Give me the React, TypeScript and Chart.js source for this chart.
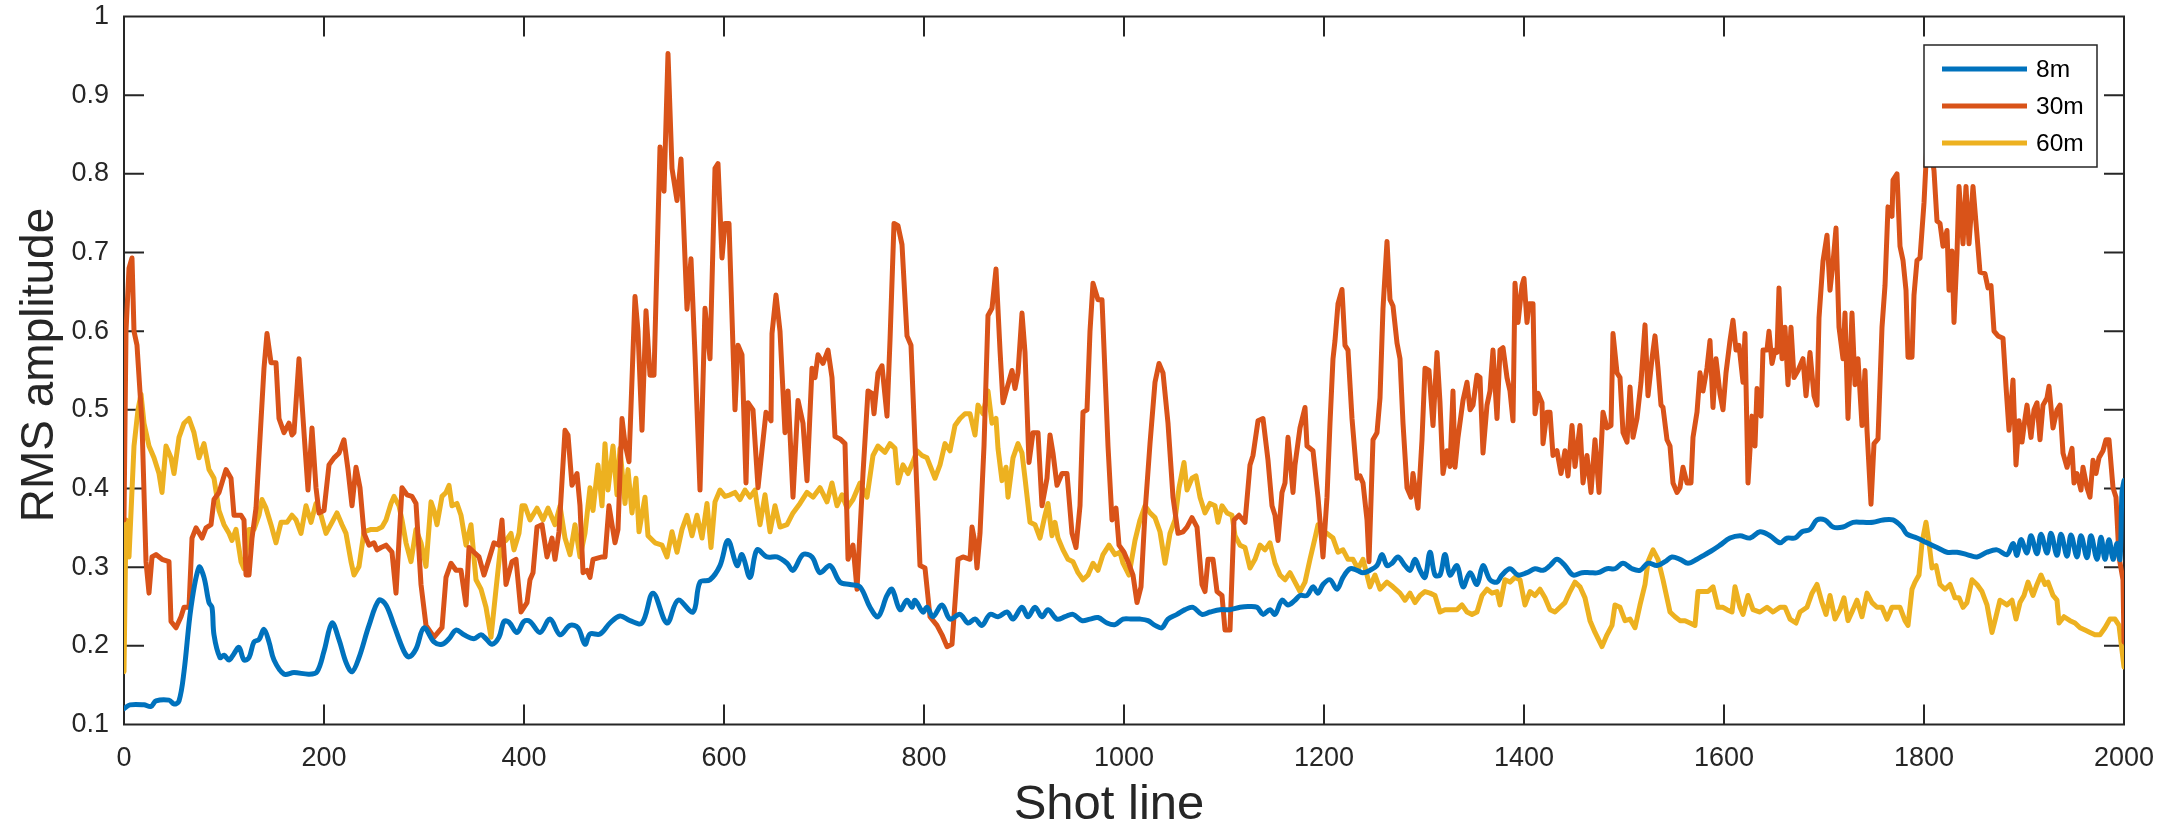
import React, { useEffect, useRef } from "react";
import { Chart, registerables } from "chart.js";

Chart.register(...registerables);

// ---------------- data ----------------
const SERIES_LABELS = ["8m", "30m", "60m"];
const SERIES_COLORS = ["#0072BD", "#D95319", "#EDB120"];
const X_TICKS = [0, 200, 400, 600, 800, 1000, 1200, 1400, 1600, 1800, 2000];
const Y_TICKS = [0.1, 0.2, 0.3, 0.4, 0.5, 0.6, 0.7, 0.8, 0.9, 1];

const SHOTS_8M = [0,6,20,27,32,45,50,55,60,67,75,80,85,88,90,96,100,105,110,115,120,125,130,135,140,145,150,160,170,185,193,200,208,215,222,228,235,245,255,262,270,280,285,292,300,310,318,325,332,340,350,357,362,368,375,380,385,393,400,406,416,426,436,446,454,461,466,476,486,496,506,518,529,543,554,569,576,586,596,604,613,618,626,633,643,653,663,669,679,688,696,706,716,726,736,746,754,763,768,776,783,788,791,799,803,809,818,826,836,844,851,858,866,874,883,889,898,904,911,918,924,933,941,949,958,966,974,983,991,999,1008,1016,1024,1031,1038,1044,1053,1061,1069,1078,1086,1096,1106,1116,1124,1133,1139,1146,1151,1158,1164,1171,1176,1183,1189,1194,1199,1206,1213,1219,1226,1233,1239,1246,1253,1258,1263,1268,1274,1281,1286,1291,1296,1301,1306,1311,1316,1321,1326,1333,1339,1346,1353,1359,1366,1373,1378,1386,1394,1403,1411,1419,1426,1433,1441,1449,1458,1466,1474,1483,1491,1499,1508,1516,1524,1533,1541,1548,1556,1564,1573,1581,1589,1596,1606,1616,1626,1636,1646,1656,1663,1671,1678,1686,1693,1701,1709,1719,1729,1739,1749,1759,1769,1778,1783,1793,1803,1813,1823,1833,1843,1853,1863,1873,1883,1889,1893,1897,1903,1907,1913,1917,1923,1927,1933,1937,1943,1947,1953,1957,1963,1967,1973,1977,1981,1985,1989,1993,1996,1998,2000];
const RMS_8M = [0.12,0.125,0.125,0.123,0.13,0.131,0.126,0.13,0.167,0.249,0.3,0.287,0.255,0.249,0.214,0.185,0.188,0.182,0.19,0.198,0.182,0.185,0.205,0.208,0.221,0.205,0.182,0.164,0.166,0.164,0.167,0.193,0.229,0.208,0.179,0.167,0.185,0.226,0.258,0.252,0.226,0.193,0.186,0.196,0.223,0.205,0.202,0.209,0.22,0.214,0.209,0.214,0.209,0.202,0.211,0.231,0.23,0.217,0.231,0.231,0.217,0.234,0.214,0.226,0.223,0.202,0.215,0.215,0.229,0.238,0.232,0.229,0.267,0.229,0.258,0.243,0.281,0.284,0.302,0.334,0.302,0.316,0.287,0.322,0.313,0.313,0.305,0.296,0.316,0.313,0.293,0.302,0.281,0.278,0.275,0.249,0.237,0.264,0.272,0.246,0.258,0.249,0.258,0.243,0.249,0.237,0.252,0.234,0.24,0.229,0.234,0.226,0.24,0.237,0.243,0.234,0.249,0.237,0.249,0.237,0.246,0.234,0.237,0.24,0.232,0.234,0.236,0.229,0.227,0.234,0.234,0.234,0.232,0.226,0.223,0.234,0.24,0.246,0.249,0.24,0.243,0.246,0.246,0.249,0.25,0.249,0.24,0.246,0.24,0.258,0.252,0.258,0.264,0.264,0.275,0.267,0.278,0.284,0.272,0.287,0.298,0.296,0.293,0.296,0.302,0.316,0.302,0.305,0.313,0.302,0.296,0.31,0.296,0.287,0.319,0.29,0.29,0.316,0.29,0.302,0.275,0.293,0.278,0.302,0.284,0.281,0.29,0.298,0.29,0.293,0.298,0.296,0.302,0.31,0.302,0.29,0.293,0.293,0.293,0.298,0.298,0.305,0.298,0.296,0.305,0.302,0.307,0.313,0.31,0.305,0.31,0.316,0.322,0.328,0.337,0.34,0.337,0.345,0.34,0.331,0.337,0.337,0.345,0.348,0.36,0.36,0.351,0.351,0.357,0.357,0.357,0.36,0.36,0.351,0.342,0.337,0.331,0.325,0.319,0.319,0.316,0.313,0.319,0.322,0.316,0.33,0.315,0.335,0.318,0.34,0.317,0.342,0.318,0.343,0.315,0.342,0.314,0.341,0.313,0.34,0.312,0.34,0.31,0.338,0.31,0.335,0.31,0.33,0.31,0.395,0.41];

const SHOTS_30M = [0,2,5,8,10,13,18,22,25,28,32,38,45,47,52,57,60,65,68,72,78,82,87,90,95,102,107,110,117,120,122,125,128,132,140,143,147,152,155,160,165,168,170,175,180,184,188,192,195,200,205,210,215,220,224,228,232,236,240,245,250,253,257,262,268,272,278,283,288,292,297,302,310,318,322,327,332,337,342,345,350,355,360,365,370,375,378,382,388,392,397,403,406,409,413,418,423,428,431,435,441,444,448,453,456,459,463,466,469,478,481,485,491,494,498,501,505,511,514,518,522,526,530,536,540,544,548,553,557,563,567,571,576,581,586,591,594,598,601,605,611,614,618,622,624,629,634,642,647,648,652,656,661,664,669,674,679,683,688,691,694,699,704,708,711,716,721,724,729,733,739,744,748,750,754,758,763,766,770,774,778,783,787,791,796,801,806,813,818,823,828,831,834,839,846,848,851,853,856,860,864,868,872,876,879,884,888,891,894,898,901,905,909,914,918,923,926,929,933,938,943,948,952,956,959,963,966,969,974,978,981,984,988,992,995,1000,1004,1009,1013,1017,1021,1026,1031,1035,1039,1044,1049,1054,1059,1063,1068,1073,1078,1081,1084,1089,1093,1098,1101,1106,1110,1115,1121,1126,1129,1134,1139,1144,1148,1151,1154,1158,1161,1164,1169,1171,1176,1181,1183,1189,1194,1199,1203,1206,1209,1211,1214,1218,1221,1224,1228,1233,1236,1239,1243,1245,1249,1253,1256,1259,1263,1266,1269,1273,1276,1279,1283,1287,1289,1294,1298,1301,1305,1309,1313,1316,1319,1323,1326,1329,1331,1334,1339,1343,1346,1349,1353,1356,1359,1363,1366,1369,1373,1376,1379,1383,1386,1389,1391,1394,1398,1400,1403,1405,1409,1411,1414,1418,1419,1423,1426,1429,1433,1437,1441,1444,1448,1451,1456,1459,1463,1467,1471,1475,1479,1483,1487,1489,1493,1496,1499,1503,1506,1509,1513,1517,1521,1524,1528,1531,1534,1537,1539,1543,1546,1549,1553,1556,1559,1563,1567,1569,1573,1576,1579,1583,1586,1589,1592,1596,1599,1602,1606,1609,1612,1615,1619,1621,1624,1628,1631,1633,1637,1639,1643,1645,1648,1651,1653,1655,1658,1661,1664,1667,1670,1674,1679,1682,1686,1690,1693,1695,1699,1703,1706,1709,1712,1715,1719,1721,1724,1728,1731,1734,1738,1741,1743,1747,1750,1754,1758,1761,1764,1768,1769,1773,1776,1779,1782,1784,1788,1790,1793,1796,1800,1803,1807,1810,1813,1816,1819,1823,1825,1828,1830,1833,1835,1839,1842,1845,1849,1853,1856,1861,1864,1867,1870,1874,1879,1882,1885,1889,1892,1895,1898,1901,1903,1907,1910,1913,1916,1919,1923,1925,1929,1933,1936,1939,1943,1948,1950,1953,1957,1959,1963,1966,1969,1972,1975,1979,1982,1985,1989,1992,1995,1999,2000];
const RMS_30M = [0.36,0.6,0.68,0.693,0.6,0.582,0.483,0.307,0.267,0.313,0.316,0.31,0.307,0.231,0.223,0.237,0.249,0.249,0.337,0.35,0.337,0.35,0.354,0.386,0.395,0.424,0.413,0.366,0.366,0.36,0.29,0.29,0.337,0.375,0.553,0.597,0.56,0.56,0.489,0.471,0.483,0.468,0.471,0.565,0.471,0.398,0.477,0.401,0.369,0.372,0.43,0.439,0.445,0.462,0.424,0.378,0.427,0.401,0.343,0.328,0.331,0.322,0.325,0.328,0.319,0.267,0.401,0.392,0.39,0.381,0.278,0.226,0.211,0.223,0.287,0.305,0.296,0.296,0.252,0.325,0.319,0.313,0.29,0.31,0.331,0.328,0.36,0.278,0.307,0.31,0.243,0.255,0.284,0.293,0.351,0.354,0.313,0.337,0.31,0.345,0.474,0.468,0.404,0.419,0.378,0.293,0.296,0.287,0.31,0.313,0.313,0.378,0.331,0.348,0.489,0.457,0.434,0.644,0.6,0.474,0.626,0.544,0.544,0.834,0.778,0.953,0.807,0.766,0.819,0.628,0.692,0.57,0.398,0.629,0.565,0.807,0.813,0.693,0.737,0.737,0.5,0.582,0.57,0.407,0.509,0.5,0.401,0.497,0.486,0.597,0.646,0.6,0.471,0.524,0.389,0.512,0.483,0.41,0.553,0.541,0.57,0.559,0.576,0.541,0.466,0.463,0.457,0.31,0.328,0.272,0.419,0.524,0.521,0.495,0.547,0.556,0.492,0.588,0.737,0.734,0.71,0.594,0.582,0.457,0.302,0.299,0.237,0.226,0.214,0.199,0.202,0.255,0.31,0.313,0.31,0.351,0.331,0.299,0.343,0.454,0.62,0.629,0.679,0.576,0.509,0.532,0.55,0.527,0.547,0.623,0.573,0.433,0.471,0.471,0.378,0.413,0.468,0.445,0.404,0.419,0.419,0.343,0.325,0.378,0.497,0.5,0.6,0.661,0.64,0.64,0.547,0.454,0.36,0.375,0.328,0.319,0.307,0.29,0.255,0.275,0.369,0.457,0.535,0.559,0.547,0.483,0.389,0.343,0.345,0.351,0.363,0.351,0.278,0.269,0.31,0.31,0.269,0.264,0.22,0.22,0.36,0.366,0.357,0.43,0.442,0.486,0.489,0.436,0.378,0.366,0.334,0.395,0.407,0.465,0.395,0.43,0.477,0.503,0.454,0.448,0.389,0.313,0.389,0.483,0.565,0.588,0.635,0.653,0.582,0.576,0.489,0.413,0.416,0.407,0.36,0.307,0.462,0.471,0.515,0.629,0.714,0.64,0.632,0.585,0.565,0.483,0.401,0.389,0.419,0.375,0.462,0.553,0.55,0.48,0.573,0.509,0.419,0.448,0.428,0.524,0.427,0.465,0.512,0.535,0.5,0.506,0.544,0.541,0.445,0.506,0.524,0.576,0.489,0.576,0.579,0.541,0.524,0.486,0.661,0.611,0.658,0.667,0.611,0.635,0.635,0.495,0.521,0.509,0.457,0.497,0.497,0.442,0.448,0.419,0.448,0.416,0.48,0.428,0.48,0.407,0.442,0.395,0.462,0.395,0.497,0.477,0.48,0.597,0.547,0.541,0.471,0.459,0.529,0.465,0.489,0.535,0.608,0.518,0.565,0.594,0.553,0.506,0.503,0.462,0.454,0.407,0.395,0.401,0.427,0.407,0.407,0.465,0.497,0.547,0.524,0.553,0.588,0.503,0.565,0.52,0.5,0.547,0.588,0.614,0.576,0.582,0.535,0.597,0.407,0.492,0.454,0.527,0.492,0.576,0.576,0.6,0.559,0.576,0.573,0.655,0.565,0.605,0.532,0.605,0.541,0.55,0.565,0.518,0.573,0.518,0.506,0.617,0.689,0.722,0.652,0.687,0.731,0.605,0.565,0.623,0.489,0.623,0.532,0.565,0.48,0.55,0.474,0.38,0.457,0.463,0.605,0.658,0.758,0.746,0.792,0.8,0.708,0.69,0.652,0.567,0.567,0.646,0.69,0.693,0.763,0.84,0.83,0.804,0.74,0.737,0.708,0.728,0.652,0.702,0.611,0.699,0.784,0.711,0.784,0.711,0.784,0.722,0.675,0.673,0.655,0.658,0.6,0.594,0.591,0.53,0.474,0.538,0.43,0.486,0.459,0.489,0.506,0.465,0.5,0.509,0.462,0.506,0.515,0.53,0.477,0.5,0.506,0.445,0.427,0.451,0.407,0.419,0.398,0.427,0.401,0.389,0.436,0.419,0.439,0.448,0.462,0.462,0.401,0.389,0.313,0.284,0.205];

const SHOTS_60M = [0,2,5,10,14,17,20,25,30,35,38,42,47,50,55,60,65,70,75,80,85,90,95,100,105,108,112,117,120,125,130,135,138,142,147,152,157,163,168,172,177,182,187,192,197,202,208,213,218,222,227,230,235,240,247,253,258,262,267,270,275,278,282,287,292,297,302,307,310,313,318,322,325,328,333,337,342,347,352,357,362,367,372,377,382,387,390,395,398,401,406,413,419,424,431,436,441,446,451,456,461,466,469,474,478,481,484,489,493,496,501,504,508,512,515,521,524,531,538,543,548,553,558,563,568,573,578,583,587,591,596,601,606,611,616,621,626,631,636,641,646,651,656,663,669,676,683,689,696,703,708,713,718,723,729,736,743,749,754,761,766,771,774,779,784,789,793,798,803,811,816,821,826,831,836,841,846,851,854,859,864,868,872,874,878,882,884,889,894,898,901,906,911,916,921,924,928,931,934,939,944,949,954,959,964,969,974,979,985,991,996,999,1005,1011,1016,1021,1026,1031,1036,1041,1046,1051,1055,1060,1063,1068,1072,1076,1081,1086,1091,1094,1098,1103,1108,1111,1116,1121,1126,1131,1136,1141,1146,1151,1156,1161,1166,1171,1176,1181,1186,1191,1194,1199,1203,1209,1214,1219,1224,1229,1234,1239,1246,1251,1256,1263,1269,1276,1281,1286,1291,1296,1301,1306,1311,1316,1321,1328,1333,1338,1343,1348,1353,1358,1363,1368,1373,1376,1381,1386,1391,1396,1401,1406,1411,1416,1421,1426,1431,1436,1441,1446,1451,1456,1461,1466,1471,1478,1483,1488,1491,1496,1501,1506,1511,1516,1521,1524,1529,1534,1539,1546,1551,1556,1561,1566,1571,1574,1579,1584,1589,1594,1599,1603,1608,1611,1616,1619,1624,1629,1636,1643,1649,1656,1661,1666,1672,1676,1683,1688,1693,1698,1702,1706,1711,1716,1720,1724,1729,1733,1738,1743,1748,1753,1758,1763,1768,1776,1781,1784,1788,1791,1795,1798,1802,1805,1808,1812,1816,1821,1826,1831,1835,1839,1843,1848,1853,1858,1863,1868,1871,1876,1883,1888,1892,1896,1900,1904,1909,1913,1917,1921,1924,1929,1933,1935,1940,1946,1951,1956,1961,1966,1971,1976,1981,1986,1991,1995,1998,2000];
const RMS_60M = [0.167,0.36,0.313,0.454,0.5,0.52,0.483,0.454,0.439,0.419,0.395,0.454,0.439,0.419,0.465,0.483,0.489,0.471,0.439,0.457,0.424,0.413,0.372,0.354,0.343,0.334,0.348,0.307,0.298,0.348,0.348,0.366,0.386,0.375,0.354,0.331,0.357,0.357,0.366,0.36,0.343,0.378,0.357,0.381,0.366,0.343,0.357,0.369,0.354,0.343,0.307,0.29,0.301,0.345,0.348,0.348,0.351,0.36,0.381,0.39,0.378,0.36,0.331,0.307,0.348,0.331,0.301,0.383,0.372,0.354,0.39,0.395,0.404,0.378,0.381,0.366,0.328,0.354,0.284,0.272,0.249,0.211,0.272,0.331,0.334,0.343,0.322,0.343,0.378,0.378,0.36,0.375,0.36,0.375,0.354,0.378,0.337,0.316,0.354,0.313,0.343,0.401,0.372,0.43,0.378,0.457,0.398,0.454,0.392,0.451,0.381,0.424,0.369,0.413,0.345,0.389,0.34,0.331,0.328,0.313,0.345,0.319,0.348,0.366,0.34,0.366,0.337,0.381,0.325,0.383,0.398,0.39,0.392,0.395,0.386,0.398,0.389,0.398,0.354,0.392,0.345,0.378,0.351,0.354,0.369,0.381,0.395,0.389,0.401,0.383,0.407,0.378,0.392,0.375,0.386,0.407,0.389,0.442,0.454,0.446,0.457,0.451,0.407,0.43,0.419,0.434,0.448,0.442,0.439,0.413,0.43,0.457,0.448,0.48,0.489,0.495,0.495,0.468,0.506,0.495,0.524,0.483,0.489,0.451,0.41,0.427,0.389,0.439,0.457,0.445,0.413,0.357,0.354,0.337,0.366,0.381,0.34,0.357,0.337,0.322,0.31,0.307,0.293,0.284,0.29,0.305,0.296,0.316,0.328,0.316,0.319,0.305,0.29,0.334,0.36,0.378,0.369,0.363,0.345,0.305,0.343,0.36,0.401,0.433,0.398,0.413,0.416,0.389,0.369,0.381,0.378,0.357,0.378,0.369,0.366,0.34,0.328,0.325,0.299,0.31,0.328,0.322,0.331,0.305,0.29,0.284,0.293,0.281,0.269,0.281,0.31,0.337,0.354,0.345,0.343,0.337,0.319,0.322,0.31,0.31,0.298,0.31,0.275,0.29,0.272,0.281,0.275,0.267,0.258,0.267,0.255,0.264,0.269,0.267,0.264,0.243,0.246,0.246,0.246,0.252,0.243,0.24,0.243,0.264,0.272,0.267,0.269,0.252,0.284,0.281,0.287,0.284,0.252,0.269,0.264,0.272,0.261,0.246,0.243,0.249,0.255,0.269,0.281,0.275,0.261,0.232,0.217,0.199,0.214,0.226,0.252,0.249,0.232,0.234,0.223,0.252,0.278,0.307,0.322,0.31,0.284,0.243,0.237,0.232,0.232,0.229,0.226,0.269,0.269,0.269,0.275,0.249,0.249,0.246,0.243,0.275,0.249,0.24,0.264,0.246,0.243,0.249,0.243,0.249,0.249,0.234,0.229,0.243,0.249,0.267,0.278,0.255,0.24,0.264,0.234,0.246,0.261,0.232,0.246,0.258,0.237,0.267,0.255,0.249,0.249,0.234,0.249,0.249,0.232,0.226,0.272,0.281,0.29,0.331,0.357,0.331,0.299,0.302,0.278,0.272,0.278,0.261,0.261,0.249,0.255,0.284,0.278,0.269,0.252,0.217,0.232,0.258,0.252,0.258,0.234,0.255,0.264,0.281,0.264,0.278,0.29,0.278,0.281,0.264,0.258,0.229,0.237,0.232,0.229,0.223,0.22,0.217,0.214,0.214,0.223,0.234,0.234,0.226,0.194,0.173];

const X_TITLE = "Shot line";
const Y_TITLE = "RMS amplitude";

// ---------------- style ----------------
const FONT = "'Liberation Sans', Arial, Helvetica, sans-serif";
const INK = "#262626";
const TICK_LEN = 20;

const zip = (xs: number[], ys: number[]) => xs.map((x, i) => ({ x, y: ys[i] }));

const fmt = (v: number) => String(Number(Number(v).toFixed(1)));

const framePlugin = {
  id: "frameTicks",
  beforeDatasetsDraw(chart: any) {
    const { ctx, chartArea: a, scales } = chart;
    const xs = scales.x;
    const ys = scales.y;
    ctx.save();
    ctx.strokeStyle = INK;
    ctx.lineWidth = 2;
    ctx.beginPath();
    ctx.rect(a.left, a.top, a.right - a.left, a.bottom - a.top);
    X_TICKS.forEach((t) => {
      const px = xs.getPixelForValue(t);
      ctx.moveTo(px, a.bottom);
      ctx.lineTo(px, a.bottom - TICK_LEN);
      ctx.moveTo(px, a.top);
      ctx.lineTo(px, a.top + TICK_LEN);
    });
    Y_TICKS.forEach((t) => {
      const py = ys.getPixelForValue(t);
      ctx.moveTo(a.left, py);
      ctx.lineTo(a.left + TICK_LEN, py);
      ctx.moveTo(a.right, py);
      ctx.lineTo(a.right - TICK_LEN, py);
    });
    ctx.stroke();

    // axis titles
    ctx.fillStyle = INK;
    ctx.textBaseline = "alphabetic";
    ctx.textAlign = "center";
    ctx.font = `49px ${FONT}`;
    ctx.fillText(X_TITLE, 1109, 819);
    ctx.save();
    ctx.translate(52.5, 365);
    ctx.rotate(-Math.PI / 2);
    ctx.font = `46px ${FONT}`;
    ctx.fillText(Y_TITLE, 0, 0);
    ctx.restore();
    ctx.restore();
  },
};

const legendPlugin = {
  id: "boxLegend",
  afterDraw(chart: any) {
    const { ctx, chartArea: a } = chart;
    const left = a.right - 200;
    const top = a.top + 28.5;
    const w = 173;
    const h = 122;
    ctx.save();
    ctx.fillStyle = "#ffffff";
    ctx.fillRect(left, top, w, h);
    ctx.strokeStyle = INK;
    ctx.lineWidth = 1.5;
    ctx.strokeRect(left, top, w, h);
    ctx.font = `24.5px ${FONT}`;
    ctx.textBaseline = "middle";
    ctx.textAlign = "left";
    chart.data.datasets.forEach((ds: any, i: number) => {
      const y = top + 24 + i * 37;
      ctx.strokeStyle = ds.borderColor;
      ctx.lineWidth = 5;
      ctx.beginPath();
      ctx.moveTo(left + 18, y);
      ctx.lineTo(left + 103, y);
      ctx.stroke();
      ctx.fillStyle = "#000000";
      ctx.fillText(ds.label, left + 112, y + 1);
    });
    ctx.restore();
  },
};

export default function App() {
  const ref = useRef<HTMLCanvasElement | null>(null);

  useEffect(() => {
    document.body.style.margin = "0";
    const canvas = ref.current;
    if (!canvas) return;
    const seriesX = [SHOTS_8M, SHOTS_30M, SHOTS_60M];
    const seriesY = [RMS_8M, RMS_30M, RMS_60M];
    const chart = new Chart(canvas, {
      type: "line",
      data: {
        datasets: SERIES_LABELS.map((label, i) => ({
          label,
          data: zip(seriesX[i], seriesY[i]),
          borderColor: SERIES_COLORS[i],
          backgroundColor: SERIES_COLORS[i],
          borderWidth: 5,
          pointRadius: 0,
          tension: i === 0 ? 0.35 : 0,
          borderJoinStyle: "round",
          borderCapStyle: "round",
          fill: false,
        })),
      },
      options: {
        animation: false,
        responsive: false,
        devicePixelRatio: 1,
        layout: { padding: { top: 16.5, right: 56, left: 0, bottom: 0 } },
        plugins: {
          legend: { display: false },
          tooltip: { enabled: false },
        },
        scales: {
          x: {
            type: "linear",
            min: 0,
            max: 2000,
            afterBuildTicks: (s: any) => {
              s.ticks = X_TICKS.map((v) => ({ value: v }));
            },
            afterFit: (s: any) => {
              s.height = 104.5;
              s.paddingLeft = 0;
              s.paddingRight = 0;
            },
            ticks: {
              font: { family: FONT, size: 27 },
              color: INK,
              padding: 18,
              maxRotation: 0,
              autoSkip: false,
              callback: (v: any) => String(v),
            },
            grid: { display: false, drawTicks: false },
            border: { display: false },
            title: { display: false },
          },
          y: {
            type: "linear",
            min: 0.1,
            max: 1,
            afterBuildTicks: (s: any) => {
              s.ticks = Y_TICKS.map((v) => ({ value: v }));
            },
            afterFit: (s: any) => {
              s.width = 124;
              s.paddingTop = 0;
              s.paddingBottom = 0;
            },
            ticks: {
              font: { family: FONT, size: 27 },
              color: INK,
              padding: 15,
              autoSkip: false,
              callback: (v: any) => fmt(v),
            },
            grid: { display: false, drawTicks: false },
            border: { display: false },
            title: { display: false },
          },
        },
      },
      plugins: [framePlugin, legendPlugin],
    } as any);
    return () => chart.destroy();
  }, []);

  return (
    <div style={{ width: 2180, height: 829 }}>
      <canvas ref={ref} width={2180} height={829} style={{ display: "block", width: 2180, height: 829 }} />
    </div>
  );
}
